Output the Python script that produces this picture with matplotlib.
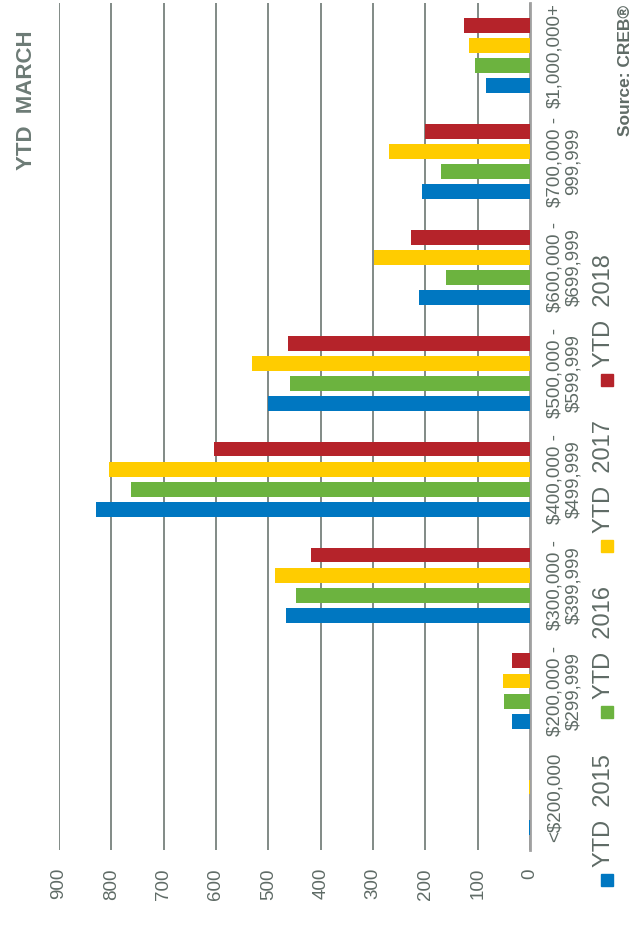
import numpy as np
import matplotlib.pyplot as plt
from matplotlib.patches import Rectangle

plt.rcParams['font.family'] = ['Liberation Sans', 'DejaVu Sans']

# price ranges, bottom to top as they appear on the (rotated) chart
categories = ['<$200,000', '$200,000 -\n$299,999', '$300,000 -\n$399,999',
              '$400,000 -\n$499,999', '$500,000 -\n$599,999', '$600,000 -\n$699,999',
              '$700,000 -\n999,999', '$1,000,000+']
series = ['YTD 2015', 'YTD 2016', 'YTD 2017', 'YTD 2018']
ytd_2015 = [2, 35, 467, 830, 501, 212, 207, 85]
ytd_2016 = [0, 50, 447, 763, 459, 161, 170, 105]
ytd_2017 = [1, 52, 488, 805, 532, 298, 270, 117]
ytd_2018 = [0, 35, 419, 604, 463, 228, 201, 127]
value_ticks = [0, 100, 200, 300, 400, 500, 600, 700, 800, 900]

colors = ['#0077c1', '#6cb33f', '#ffcc00', '#b5232a']
txt = '#5f6b66'

fig = plt.figure(figsize=(6.37, 9.41), dpi=100)
ax = fig.add_axes([0.0926, 0.0967, 0.7394, 0.9006])

y = np.arange(len(categories))
pitch = 0.19
for i, (vals, c) in enumerate(zip([ytd_2015, ytd_2016, ytd_2017, ytd_2018], colors)):
    ax.barh(y + (i - 1.5) * pitch, vals, height=0.14, color=c, zorder=3)

ax.set_xlim(900, 0)
ax.set_ylim(-0.5, 7.5)
ax.set_xticks(value_ticks)
ax.set_xticklabels([str(v) for v in value_ticks], rotation=90, fontsize=13.5, color=txt)
ax.xaxis.grid(True, color='#5f6b66', linewidth=1.1, zorder=0)
ax.tick_params(axis='x', length=0, pad=13)

ax.yaxis.tick_right()
ax.set_yticks(y)
ax.set_yticklabels(categories, rotation=90, fontsize=13.5, color=txt,
                   ha='left', va='center', multialignment='center', linespacing=1.1)
ax.tick_params(axis='y', length=0, pad=12)

for s in ['top', 'bottom', 'left']:
    ax.spines[s].set_visible(False)
ax.spines['right'].set_color('#a0a0a0')
ax.spines['right'].set_linewidth(2)

# title and source
fig.text(26.5 / 637, 1 - 100 / 941, 'YTD  MARCH', rotation=90, ha='center', va='center',
         fontsize=16, fontweight='bold', color='#6d7b76')
fig.text(625 / 637, 1 - 70 / 941, 'Source: CREB®', rotation=90, ha='center', va='center',
         fontsize=12.5, fontweight='bold', color=txt)

# legend drawn by hand, rotated
sq_y = [880, 712, 546, 380]
for name, c, py in zip(series, colors, sq_y):
    fig.add_artist(Rectangle(((607 - 6) / 637, 1 - (py + 6) / 941), 12 / 637, 12 / 941,
                             transform=fig.transFigure, color=c))
    fig.text(604 / 637, 1 - (py - 13) / 941, name.replace(' ', '  '), rotation=90,
             ha='center', va='bottom', fontsize=17, color=txt)

fig.savefig('out.png', dpi=100)
